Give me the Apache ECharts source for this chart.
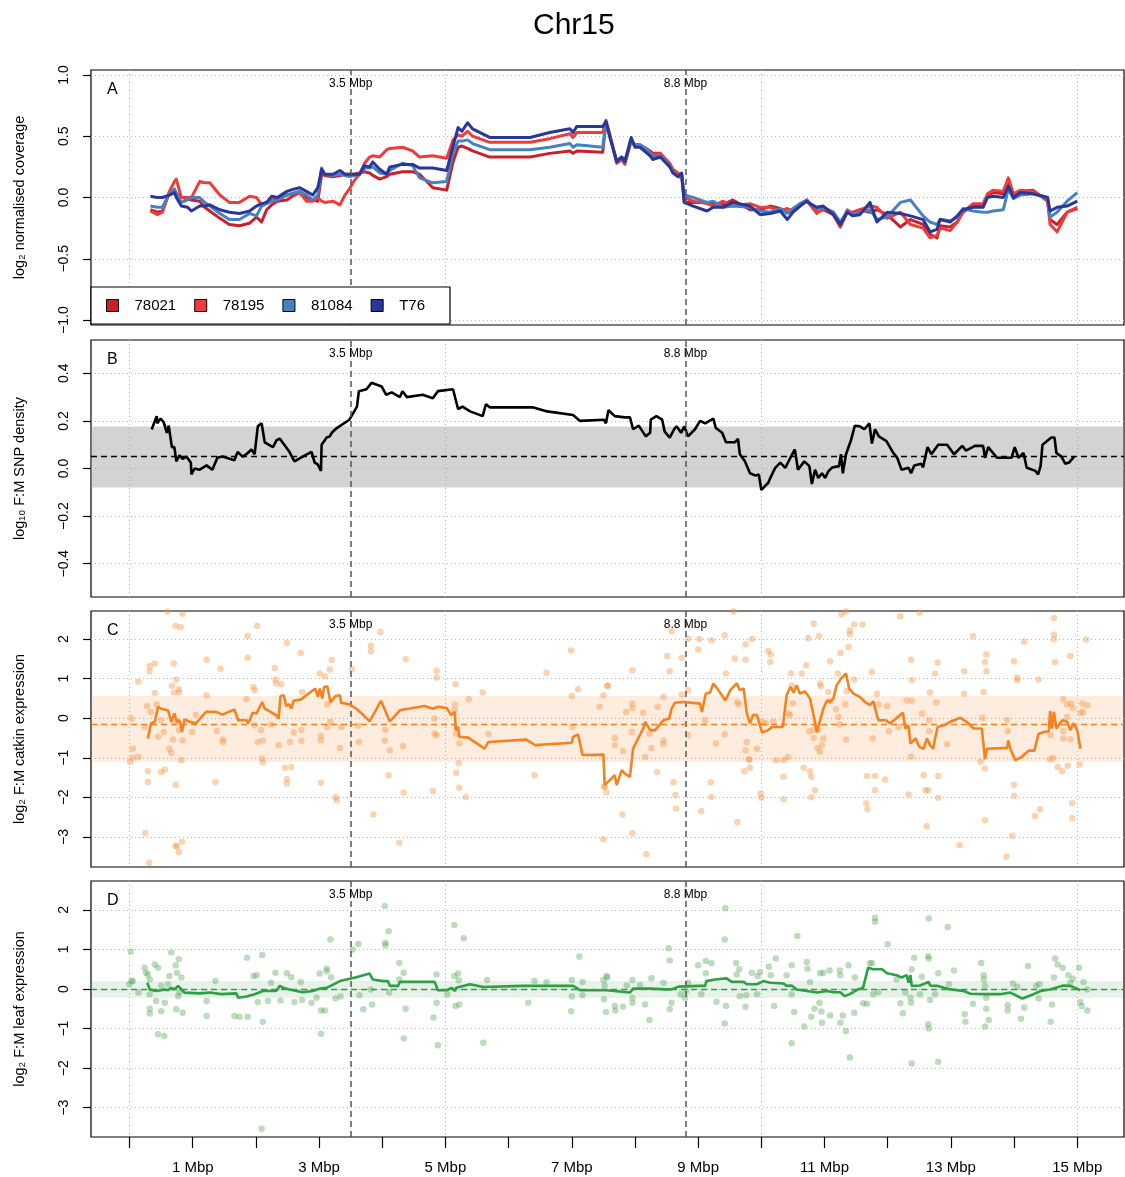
<!DOCTYPE html>
<html><head><meta charset="utf-8">
<script src="https://cdn.jsdelivr.net/npm/echarts@6/dist/echarts.min.js"></script>
<style>html,body{margin:0;padding:0;background:#fff}#c{width:1125px;height:1177px}</style>
</head><body><div id="c"></div>
<script>
// ---------------- DATA ----------------
const xTickValues = [0,1,2,3,4,5,6,7,8,9,10,11,12,13,14,15];
const xLabelValues = [1,3,5,7,9,11,13,15];
const xGridValues = [0,5,10,15];
const markerPositions = [3.5, 8.8];
const ticksA = [-1,-0.5,0,0.5,1];
const ticksB = [-0.4,-0.2,0,0.2,0.4];
const ticksC = [-3,-2,-1,0,1,2];
const ticksD = [-3,-2,-1,0,1,2];

const sampleNames = ['78021','78195','81084','T76'];
const covX = [0.33,0.44,0.52,0.63,0.71,0.74,0.82,0.92,0.98,1.11,1.19,1.27,1.43,1.58,1.74,1.90,2.01,2.09,2.17,2.25,2.34,2.49,2.61,2.69,2.80,2.90,2.98,3.04,3.09,3.22,3.33,3.41,3.48,3.56,3.64,3.72,3.80,3.85,3.96,4.07,4.12,4.32,4.48,4.59,4.80,5.02,5.12,5.20,5.26,5.35,5.43,5.70,6.34,6.65,6.97,7.02,7.08,7.49,7.54,7.60,7.71,7.79,7.84,7.94,8.00,8.08,8.24,8.28,8.40,8.55,8.60,8.68,8.74,8.78,8.92,9.14,9.24,9.39,9.55,9.82,9.98,10.14,10.30,10.41,10.50,10.61,10.72,10.77,10.88,10.98,11.14,11.25,11.36,11.45,11.56,11.72,11.83,11.99,12.20,12.36,12.56,12.67,12.78,12.83,12.99,13.10,13.19,13.35,13.51,13.58,13.67,13.83,13.91,13.99,14.10,14.30,14.53,14.57,14.68,14.84,15.00];
const cov78021 = [-0.10,-0.12,-0.11,0.04,0.05,0.03,0.0,-0.01,-0.02,-0.03,
 -0.08,-0.11,-0.17,-0.22,-0.23,-0.21,-0.16,-0.20,-0.10,-0.06,
 -0.03,-0.02,0.02,0.04,0.0,-0.02,-0.03,0.19,0.18,0.17,
 0.18,0.19,0.19,0.19,0.20,0.21,0.20,0.18,0.15,0.17,
 0.19,0.21,0.21,0.19,0.08,0.06,0.29,0.41,0.42,0.40,
 0.38,0.33,0.33,0.36,0.38,0.36,0.38,0.37,0.61,0.50,
 0.30,0.33,0.30,0.46,0.43,0.43,0.38,0.36,0.36,0.27,
 0.22,0.18,0.16,-0.04,-0.04,-0.04,-0.05,-0.06,-0.02,-0.10,
 -0.10,-0.07,-0.09,-0.12,-0.12,-0.07,-0.02,-0.05,-0.12,-0.10,
 -0.14,-0.24,-0.12,-0.12,-0.10,-0.12,-0.10,-0.14,-0.24,-0.18,
 -0.22,-0.30,-0.33,-0.23,-0.24,-0.20,-0.12,-0.07,-0.06,0.02,
 0.04,0.03,0.12,0.02,0.05,0.06,-0.03,-0.18,-0.22,-0.12,
 -0.09];
const cov78195 = [-0.11,-0.14,-0.12,0.05,0.13,0.15,0.0,0.0,0.0,0.13,
 0.12,0.12,0.02,-0.04,-0.04,0.01,0.0,-0.06,-0.04,-0.02,
 -0.01,0.02,0.03,0.04,-0.03,-0.03,0.0,-0.03,-0.04,-0.03,
 -0.06,0.02,0.07,0.14,0.19,0.28,0.33,0.34,0.33,0.39,
 0.40,0.41,0.38,0.33,0.34,0.32,0.47,0.51,0.50,0.54,
 0.50,0.45,0.45,0.48,0.52,0.49,0.53,0.53,0.63,0.52,
 0.28,0.31,0.27,0.46,0.42,0.42,0.37,0.35,0.36,0.28,
 0.23,0.20,0.18,0.0,-0.03,-0.05,-0.07,-0.03,-0.07,-0.05,
 -0.08,-0.08,-0.11,-0.09,-0.11,-0.05,-0.03,-0.06,-0.13,-0.09,
 -0.12,-0.23,-0.10,-0.13,-0.10,-0.07,-0.08,-0.17,-0.12,-0.22,
 -0.25,-0.33,-0.31,-0.25,-0.27,-0.20,-0.12,-0.05,-0.05,0.03,
 0.06,0.05,0.16,0.03,0.06,0.05,-0.02,-0.22,-0.28,-0.12,
 -0.08];
const cov81084 = [-0.07,-0.08,-0.08,0.03,0.07,0.08,-0.04,-0.02,0.0,0.0,
 -0.04,-0.07,-0.13,-0.18,-0.18,-0.13,-0.15,-0.07,-0.05,-0.03,
 -0.02,0.02,0.04,0.05,0.02,-0.02,0.02,0.24,0.19,0.18,
 0.19,0.18,0.17,0.18,0.19,0.24,0.24,0.25,0.20,0.19,
 0.22,0.28,0.26,0.16,0.12,0.13,0.37,0.46,0.46,0.47,
 0.44,0.39,0.39,0.41,0.44,0.41,0.43,0.41,0.62,0.50,
 0.30,0.32,0.29,0.47,0.43,0.43,0.37,0.33,0.34,0.26,
 0.21,0.17,0.17,0.02,0.0,-0.04,-0.03,-0.08,-0.07,-0.08,
 -0.11,-0.12,-0.09,-0.13,-0.09,-0.05,-0.02,-0.05,-0.09,-0.08,
 -0.12,-0.20,-0.11,-0.14,-0.12,-0.10,-0.18,-0.16,-0.04,-0.02,
 -0.15,-0.20,-0.22,-0.18,-0.19,-0.16,-0.09,-0.11,-0.12,-0.12,
 -0.11,-0.10,0.07,-0.01,0.02,0.03,0.0,-0.16,-0.12,-0.03,
 0.04];
const covT76 = [0.01,0.0,0.0,0.02,0.04,0.0,-0.07,-0.08,-0.11,-0.07,
 -0.07,-0.06,-0.10,-0.12,-0.13,-0.11,-0.07,-0.05,-0.04,0.01,
 0.0,0.05,0.07,0.08,0.05,0.02,0.08,0.23,0.19,0.19,
 0.22,0.19,0.19,0.19,0.19,0.26,0.25,0.29,0.23,0.19,
 0.25,0.27,0.27,0.24,0.24,0.22,0.42,0.57,0.54,0.61,
 0.56,0.49,0.49,0.53,0.56,0.53,0.58,0.58,0.62,0.50,
 0.29,0.33,0.29,0.49,0.41,0.41,0.34,0.31,0.33,0.25,
 0.20,0.17,0.20,-0.04,-0.07,-0.11,-0.08,-0.08,-0.04,-0.07,
 -0.14,-0.13,-0.11,-0.18,-0.12,-0.07,-0.03,-0.05,-0.08,-0.07,
 -0.14,-0.22,-0.12,-0.15,-0.14,-0.04,-0.20,-0.12,-0.13,-0.15,
 -0.18,-0.28,-0.26,-0.18,-0.20,-0.15,-0.10,-0.08,-0.08,0.0,
 0.01,0.0,0.09,0.0,0.04,0.03,0.0,-0.11,-0.08,-0.07,
 -0.03];

const snpDensity = [[0.35,0.164],[0.43,0.22],[0.44,0.19],[0.49,0.21],[0.54,0.195],[0.59,0.15],[0.62,0.18],[0.67,0.09],[0.71,0.09],[0.74,0.03],[0.79,0.055],[0.84,0.04],[0.90,0.05],[0.97,0.025],[0.98,-0.025],[1.03,0.0],[1.11,-0.005],[1.22,0.013],[1.31,-0.005],[1.39,0.045],[1.47,0.05],[1.66,0.035],[1.71,0.07],[1.79,0.05],[1.85,0.06],[1.93,0.08],[1.98,0.06],[2.03,0.177],[2.09,0.19],[2.14,0.11],[2.27,0.09],[2.33,0.12],[2.38,0.125],[2.42,0.11],[2.53,0.07],[2.61,0.03],[2.74,0.05],[2.88,0.07],[2.93,0.025],[2.98,0.017],[3.03,-0.01],[3.04,0.10],[3.12,0.13],[3.17,0.135],[3.20,0.15],[3.28,0.17],[3.48,0.205],[3.60,0.26],[3.63,0.325],[3.75,0.333],[3.83,0.36],[3.99,0.345],[4.06,0.31],[4.15,0.32],[4.28,0.30],[4.32,0.325],[4.39,0.30],[4.64,0.31],[4.80,0.295],[4.88,0.325],[5.12,0.333],[5.20,0.25],[5.27,0.26],[5.39,0.24],[5.59,0.22],[5.64,0.27],[5.70,0.257],[6.38,0.257],[6.61,0.24],[7.02,0.225],[7.13,0.2],[7.51,0.205],[7.54,0.19],[7.58,0.245],[7.68,0.22],[7.84,0.215],[7.92,0.215],[7.97,0.165],[8.06,0.18],[8.17,0.135],[8.24,0.15],[8.25,0.205],[8.34,0.22],[8.43,0.205],[8.47,0.155],[8.55,0.13],[8.62,0.165],[8.66,0.177],[8.73,0.15],[8.78,0.177],[8.84,0.135],[8.95,0.165],[9.03,0.2],[9.11,0.19],[9.24,0.21],[9.28,0.17],[9.38,0.15],[9.44,0.11],[9.58,0.11],[9.63,0.125],[9.66,0.06],[9.74,0.03],[9.82,-0.02],[9.91,-0.03],[9.96,-0.025],[10.00,-0.09],[10.11,-0.06],[10.15,-0.035],[10.22,0.003],[10.30,0.025],[10.38,0.003],[10.45,0.04],[10.53,0.08],[10.58,-0.005],[10.68,0.03],[10.76,0.01],[10.80,-0.065],[10.85,-0.005],[10.90,-0.04],[10.96,-0.02],[11.01,-0.04],[11.06,-0.012],[11.12,0.004],[11.23,0.01],[11.26,0.06],[11.29,-0.02],[11.34,0.06],[11.42,0.12],[11.48,0.18],[11.56,0.177],[11.63,0.165],[11.71,0.19],[11.75,0.105],[11.80,0.165],[11.86,0.135],[11.98,0.115],[12.09,0.065],[12.15,0.045],[12.22,-0.005],[12.33,0.003],[12.37,-0.02],[12.42,0.013],[12.53,0.02],[12.56,0.005],[12.63,0.09],[12.69,0.06],[12.80,0.1],[12.94,0.1],[13.05,0.06],[13.18,0.095],[13.24,0.075],[13.38,0.095],[13.51,0.095],[13.54,0.045],[13.59,0.09],[13.73,0.045],[13.96,0.045],[14.01,0.09],[14.07,0.045],[14.15,0.065],[14.20,0.003],[14.34,-0.01],[14.38,-0.025],[14.42,0.01],[14.45,0.10],[14.59,0.13],[14.64,0.13],[14.67,0.065],[14.75,0.05],[14.81,0.02],[14.87,0.025],[14.95,0.05]];
const snpBand = [-0.08, 0.177];
const snpMean = 0.048;

const catkinSmooth = [[0.29,-0.51],[0.34,-0.13],[0.40,-0.09],[0.45,0.29],[0.50,0.24],[0.61,0.20],[0.66,-0.09],[0.71,0.12],[0.75,-0.09],[0.79,-0.05],[0.83,-0.35],[0.87,-0.03],[0.95,-0.09],[1.05,-0.13],[1.21,0.16],[1.37,0.16],[1.47,0.09],[1.66,0.22],[1.72,-0.05],[1.85,-0.05],[1.88,-0.13],[1.95,0.14],[2.01,0.12],[2.10,0.41],[2.14,0.24],[2.32,0.08],[2.36,-0.01],[2.39,0.56],[2.44,0.58],[2.48,0.31],[2.53,0.35],[2.56,0.24],[2.60,0.45],[2.71,0.47],[2.94,0.75],[2.98,0.54],[3.01,0.75],[3.05,0.50],[3.08,0.79],[3.13,0.81],[3.18,0.40],[3.26,0.56],[3.33,0.58],[3.35,0.39],[3.48,0.35],[3.59,0.24],[3.70,0.08],[3.80,-0.08],[3.98,0.44],[4.12,-0.08],[4.28,0.20],[4.34,0.22],[4.67,0.31],[4.80,0.24],[4.88,0.29],[5.02,0.26],[5.09,0.08],[5.15,0.16],[5.16,-0.30],[5.20,-0.22],[5.22,-0.47],[5.36,-0.49],[5.62,-0.77],[5.68,-0.60],[6.28,-0.54],[6.42,-0.68],[7.00,-0.62],[7.02,-0.47],[7.10,-0.41],[7.17,-0.93],[7.50,-0.92],[7.52,-1.69],[7.55,-1.73],[7.68,-1.44],[7.71,-1.69],[7.79,-1.31],[7.84,-1.40],[7.92,-1.48],[7.97,-0.77],[8.13,-0.26],[8.16,-0.09],[8.24,-0.30],[8.32,-0.30],[8.45,-0.05],[8.54,-0.01],[8.58,0.24],[8.63,0.39],[8.77,0.41],[9.03,0.37],[9.06,0.16],[9.12,0.62],[9.19,0.65],[9.24,0.88],[9.32,0.71],[9.43,0.45],[9.51,0.71],[9.61,0.88],[9.66,0.71],[9.72,0.75],[9.77,0.12],[9.82,-0.13],[9.87,0.08],[9.93,0.08],[10.01,-0.36],[10.11,-0.30],[10.17,-0.22],[10.34,-0.22],[10.40,0.58],[10.46,0.79],[10.51,0.65],[10.56,0.83],[10.61,0.62],[10.69,0.68],[10.77,0.50],[10.82,0.12],[10.88,-0.35],[10.93,-0.05],[10.98,0.24],[11.04,0.45],[11.09,0.41],[11.14,0.50],[11.19,0.83],[11.27,1.02],[11.34,1.13],[11.39,0.75],[11.46,0.62],[11.56,0.54],[11.64,0.41],[11.72,0.33],[11.77,0.43],[11.85,-0.05],[11.97,-0.05],[12.04,-0.13],[12.16,0.03],[12.24,0.14],[12.28,-0.26],[12.33,-0.18],[12.36,-0.64],[12.44,-0.51],[12.50,-0.72],[12.57,-0.77],[12.62,-0.51],[12.67,-0.68],[12.72,-0.77],[12.75,-0.51],[12.79,-0.22],[12.89,-0.18],[12.99,-0.09],[13.15,0.01],[13.25,-0.09],[13.36,-0.26],[13.49,-0.26],[13.54,-1.04],[13.57,-0.77],[13.89,-0.75],[13.91,-0.56],[13.94,-0.77],[14.02,-1.06],[14.12,-0.98],[14.23,-0.82],[14.32,-0.82],[14.39,-0.39],[14.47,-0.35],[14.55,-0.33],[14.57,0.18],[14.60,-0.26],[14.63,0.16],[14.67,-0.26],[14.76,-0.05],[14.84,-0.09],[14.89,-0.30],[14.94,-0.13],[15.00,-0.30],[15.05,-0.77]];
const catkinPoints = [[0.60,2.70],[0.84,2.64],[0.73,2.33],[0.81,2.30],[2.02,2.33],[1.87,2.08],[1.87,1.53],[2.49,1.90],[2.71,1.65],[3.20,1.47],[3.97,2.18],[3.82,1.83],[3.82,1.69],[4.37,1.49],[3.52,1.24],[4.86,1.20],[4.86,1.03],[5.16,0.86],[5.37,0.48],[5.59,0.65],[6.60,1.15],[6.99,1.71],[7.10,0.73],[7.00,0.56],[7.57,0.82],[1.22,1.48],[1.44,1.25],[2.30,1.27],[2.31,0.98],[2.32,0.88],[2.40,0.86],[3.01,1.13],[3.09,1.06],[3.17,1.23],[0.40,1.38],[0.32,1.32],[0.32,1.19],[0.70,1.38],[0.74,0.98],[0.67,0.82],[0.78,0.73],[0.78,0.65],[0.70,0.65],[0.40,0.64],[0.14,0.92],[0.28,0.31],[0.34,0.16],[0.43,0.35],[0.50,-0.05],[0.03,-0.01],[0.24,-0.22],[0.45,-0.47],[0.54,-0.35],[0.63,-0.77],[0.66,-0.87],[0.69,-0.54],[0.73,-0.09],[0.78,-0.30],[0.84,-0.56],[0.82,-1.06],[0.99,-0.35],[1.05,0.08],[1.22,0.58],[1.38,-0.32],[1.48,-0.54],[1.48,-0.60],[0.05,-1.00],[0.14,-0.98],[0.01,-1.10],[0.05,-0.77],[0.29,-1.34],[0.29,-1.61],[0.50,-1.36],[0.56,-1.30],[0.73,-1.68],[1.36,-1.61],[1.98,0.71],[1.96,0.79],[1.85,0.48],[1.98,-0.18],[2.08,-0.30],[2.11,-0.56],[2.10,-1.02],[2.11,-1.12],[2.03,-0.60],[2.24,-0.16],[2.36,-0.68],[2.46,-1.25],[2.56,-1.23],[2.49,-1.54],[2.49,-1.65],[2.54,-0.60],[2.60,-0.36],[2.72,-0.30],[2.72,-0.57],[2.73,0.66],[3.03,-0.45],[3.03,-0.56],[3.03,-1.63],[3.18,-0.09],[3.13,-0.22],[3.13,0.35],[3.33,-0.75],[3.35,-0.22],[3.26,-2.00],[3.28,-2.07],[3.62,-0.19],[3.63,-0.60],[3.86,-2.43],[4.05,-0.30],[4.04,-0.56],[4.12,-0.81],[4.10,-1.44],[4.33,-0.70],[4.34,-1.88],[4.80,-1.84],[4.83,-0.39],[4.86,-0.43],[4.83,-0.01],[5.15,0.35],[5.14,0.20],[5.17,-0.39],[5.22,-0.64],[5.21,-1.14],[5.17,-1.38],[5.22,-1.76],[5.32,-1.99],[5.68,-0.40],[6.41,-1.44],[7.01,-0.22],[7.52,-1.73],[7.55,-1.88],[7.50,-3.06],[4.27,-3.15],[0.25,-2.90],[0.73,-3.22],[0.75,-3.24],[0.78,-3.39],[0.83,-3.12],[0.31,-3.65],
[9.56,2.70],[11.27,2.62],[11.34,2.70],[12.50,2.67],[12.20,2.58],[14.63,2.53],[10.83,2.39],[11.47,2.37],[11.60,2.37],[11.40,2.22],[11.40,2.12],[10.91,2.08],[10.74,2.03],[8.84,2.01],[9.02,2.00],[9.21,1.97],[9.42,2.10],[9.75,1.87],[9.85,2.00],[8.58,2.20],[9.00,1.74],[8.51,1.57],[8.74,1.52],[7.96,1.21],[8.55,1.19],[9.44,1.13],[9.58,1.51],[9.75,1.48],[10.11,1.70],[10.15,1.61],[10.14,1.42],[10.71,1.34],[11.09,1.44],[11.25,1.65],[11.38,1.80],[11.75,1.17],[10.64,1.13],[10.47,1.13],[10.48,0.82],[10.93,0.88],[10.94,0.81],[11.21,1.13],[11.47,0.98],[12.37,1.48],[12.79,1.40],[13.35,2.07],[13.56,1.61],[13.54,1.42],[13.56,1.19],[14.00,1.44],[14.16,1.93],[14.05,1.02],[14.05,0.96],[14.39,0.98],[14.63,2.11],[14.63,1.99],[14.65,1.42],[14.89,1.57],[15.14,1.99],[13.21,1.19],[13.52,0.66],[13.21,0.62],[12.75,1.13],[12.67,0.65],[12.38,0.96],[12.30,0.45],[12.38,0.44],[12.77,0.40],[12.54,0.12],[12.66,-0.05],[12.66,-0.33],[12.94,-0.66],[12.37,-0.97],[11.85,0.35],[11.99,0.31],[12.02,-0.33],[12.17,-0.22],[11.76,-0.51],[11.83,0.62],[11.33,0.35],[11.34,-0.54],[11.18,0.23],[11.22,0.03],[11.35,0.68],[11.24,-0.16],[10.89,-0.30],[10.96,-0.68],[10.93,-0.85],[10.89,-0.75],[10.83,-0.30],[11.06,0.66],[11.09,0.43],[10.98,-0.51],[10.83,-0.50],[10.76,-0.33],[10.50,0.37],[10.43,0.12],[10.45,0.08],[10.42,-0.98],[10.35,-1.06],[10.35,-1.48],[10.23,-1.06],[10.19,-0.09],[10.07,-0.13],[10.01,-0.09],[9.93,-0.77],[9.80,-1.04],[9.82,-1.25],[9.73,-1.34],[9.77,-0.60],[9.75,-0.81],[9.99,-1.90],[10.00,-2.01],[10.35,-2.05],[10.67,-1.25],[10.77,-1.34],[10.79,-1.48],[10.85,-1.82],[10.79,-2.00],[11.67,-1.46],[11.80,-1.46],[11.96,-1.55],[11.66,-2.15],[11.68,-2.30],[11.80,-1.82],[12.33,-1.93],[12.60,-1.82],[12.64,-1.82],[12.57,-1.44],[12.80,-1.46],[12.80,-2.01],[12.62,-2.73],[13.14,-3.21],[13.54,-2.58],[13.47,-1.10],[13.54,-1.27],[14.00,-1.68],[14.00,-1.96],[13.97,-2.97],[13.88,-3.50],[14.33,-2.47],[14.41,-2.30],[14.92,-2.15],[14.92,-2.53],[15.04,-1.17],[14.69,-1.23],[14.76,-1.34],[14.85,-1.20],[14.62,-1.00],[14.57,-1.04],[14.78,-0.33],[14.78,-0.51],[14.58,-0.43],[14.89,-0.53],[14.78,0.48],[14.84,0.35],[14.90,0.37],[14.93,0.26],[15.05,0.14],[15.08,0.37],[15.16,0.33],[15.09,0.16],[14.84,0.03],[14.61,0.09],[13.89,-0.05],[13.90,-0.33],[13.50,0.01],[7.50,0.58],[7.56,0.82],[7.44,0.29],[7.68,-0.50],[7.68,-0.68],[7.81,-0.83],[7.51,-1.73],[7.80,-2.43],[7.96,-2.91],[8.18,-3.44],[7.96,0.37],[7.96,0.26],[7.95,-0.35],[7.86,0.16],[8.13,0.14],[8.45,0.54],[8.36,0.29],[8.45,-0.56],[8.45,-0.66],[8.26,-0.75],[8.35,-1.36],[8.16,-0.98],[8.23,-0.39],[8.61,-1.62],[8.64,-1.94],[8.65,-2.28],[8.84,-0.43],[8.74,0.60],[8.84,0.71],[9.11,-0.05],[9.20,-1.62],[9.21,-1.99],[9.05,-2.35],[9.28,-0.64],[9.42,-0.41],[9.62,0.41],[9.64,0.35],[9.81,-1.04],[9.62,-2.62]];
const catkinBand = [-1.10, 0.56];
const catkinMean = -0.15;

const leafSmooth = [[0.28,0.16],[0.32,-0.01],[0.42,-0.05],[0.50,-0.03],[0.56,-0.01],[0.61,-0.03],[0.66,0.03],[0.71,-0.01],[0.77,0.08],[0.82,-0.01],[0.87,-0.09],[1.11,-0.11],[1.27,-0.09],[1.45,-0.13],[1.69,-0.11],[1.72,-0.22],[1.85,-0.19],[1.98,-0.13],[2.11,-0.05],[2.32,-0.05],[2.38,0.08],[2.43,0.03],[2.53,-0.01],[2.74,-0.08],[2.90,-0.05],[3.01,0.01],[3.12,0.03],[3.33,0.20],[3.59,0.30],[3.80,0.39],[3.85,0.24],[4.01,0.20],[4.09,0.20],[4.12,0.08],[4.25,0.08],[4.28,0.18],[4.83,0.18],[4.88,-0.03],[5.02,-0.03],[5.10,0.03],[5.15,-0.05],[5.17,0.03],[5.39,0.12],[5.60,0.05],[6.23,0.08],[7.02,0.08],[7.13,-0.03],[7.55,-0.03],[7.92,-0.09],[7.97,0.01],[8.24,0.01],[8.50,-0.01],[8.58,-0.01],[8.69,0.06],[9.03,0.08],[9.11,0.08],[9.13,0.20],[9.27,0.24],[9.45,0.27],[9.53,0.18],[9.72,0.18],[9.77,0.12],[9.93,0.12],[10.03,0.20],[10.14,0.16],[10.35,0.14],[10.40,0.08],[10.48,0.09],[10.56,-0.01],[10.72,-0.05],[10.88,-0.09],[11.04,-0.05],[11.14,-0.08],[11.25,-0.08],[11.32,-0.18],[11.40,-0.13],[11.53,-0.01],[11.61,0.03],[11.69,0.54],[11.77,0.50],[11.91,0.50],[11.99,0.40],[12.14,0.35],[12.22,0.29],[12.30,0.35],[12.33,0.16],[12.36,0.35],[12.38,0.08],[12.51,0.09],[12.65,0.18],[12.67,0.09],[12.78,0.08],[12.99,-0.01],[13.20,-0.05],[13.31,-0.12],[13.52,-0.13],[13.78,-0.13],[13.94,-0.09],[14.13,-0.24],[14.31,-0.13],[14.42,-0.05],[14.57,-0.01],[14.78,0.09],[14.89,0.08],[15.05,-0.03]];
const leafPoints = [[0.02,0.94],[0.03,0.20],[0.05,0.20],[0.00,0.12],[0.14,-0.09],[0.24,0.54],[0.26,0.41],[0.29,0.37],[0.32,0.24],[0.40,0.62],[0.45,0.54],[0.32,-0.13],[0.42,-0.30],[0.32,-0.50],[0.32,-0.62],[0.50,-0.56],[0.56,-0.35],[0.45,-1.14],[0.55,-1.19],[0.66,0.92],[0.63,0.33],[0.61,0.12],[0.73,0.60],[0.75,0.41],[0.78,0.75],[0.82,0.29],[0.79,-0.09],[0.74,-0.51],[0.84,-0.60],[0.77,-0.18],[0.50,0.08],[1.22,-0.30],[1.22,-0.68],[1.36,0.20],[1.66,-0.68],[1.74,-0.70],[1.87,-0.70],[1.86,0.79],[2.10,0.86],[1.96,0.33],[2.01,0.35],[2.03,-0.33],[2.11,-0.83],[2.09,-3.53],[2.19,-0.30],[2.31,0.41],[2.24,0.16],[2.39,-0.29],[2.49,0.40],[2.56,0.30],[2.61,-0.33],[2.71,0.18],[2.73,-0.28],[2.88,-0.35],[2.96,-0.22],[3.01,0.39],[3.12,0.51],[3.12,0.45],[3.19,0.30],[3.03,-0.54],[3.09,-0.54],[3.03,-1.13],[3.18,1.25],[3.26,-0.24],[3.34,-0.19],[3.53,1.00],[3.62,1.14],[3.64,-0.16],[3.70,-0.51],[3.82,-0.01],[3.84,-0.39],[4.04,2.10],[4.10,1.46],[4.05,1.17],[4.05,1.10],[4.11,-0.09],[4.27,0.66],[4.34,0.41],[4.27,0.24],[4.37,-0.50],[4.34,-1.25],[4.81,-0.72],[4.86,0.37],[4.86,-0.35],[4.88,-1.42],[5.14,1.62],[5.29,1.28],[5.14,0.33],[5.20,0.39],[5.21,0.22],[5.16,-0.43],[5.22,-0.39],[5.03,-0.13],[5.60,-1.36],[5.66,0.23],[6.31,-0.35],[6.41,0.20],[6.60,0.18],[7.00,0.23],[7.12,0.82],[7.00,-0.19],[6.99,-0.56],[7.17,0.18],[7.17,-0.16],[7.50,0.23],[7.55,0.33],[7.52,0.09],[7.54,-0.58],
[7.56,0.29],[7.51,-0.26],[7.68,-0.43],[7.69,-0.54],[7.81,-0.45],[7.87,0.09],[7.96,0.23],[7.96,-0.22],[7.96,-0.35],[8.08,0.10],[8.16,-0.39],[8.23,-0.78],[8.26,0.27],[8.45,0.16],[8.53,1.03],[8.55,0.72],[8.58,-0.35],[8.55,-0.51],[8.72,-0.13],[8.79,-0.22],[8.81,-0.05],[8.84,0.16],[9.00,0.60],[9.12,0.71],[9.12,0.40],[9.21,0.65],[9.05,-0.13],[9.29,-0.32],[9.43,2.04],[9.42,1.25],[9.44,-0.43],[9.42,-0.87],[9.60,0.66],[9.65,0.50],[9.61,0.37],[9.66,-0.18],[9.75,-0.45],[9.76,-0.16],[9.85,0.41],[9.93,-0.13],[9.94,0.33],[9.98,0.43],[10.12,0.56],[10.23,0.77],[10.15,0.35],[10.20,-0.43],[10.40,0.35],[10.48,0.60],[10.48,-0.13],[10.52,-0.58],[10.57,1.34],[10.68,-0.95],[10.48,-1.37],[10.72,0.68],[10.73,0.51],[10.77,0.18],[10.79,-0.70],[10.84,-0.50],[10.92,-0.35],[10.96,-0.85],[10.95,-0.57],[11.09,-0.67],[11.08,0.47],[10.98,0.41],[10.93,0.40],[11.24,0.47],[11.25,0.35],[11.29,-0.67],[11.25,-0.85],[11.34,-1.06],[11.38,0.60],[11.40,-1.73],[11.47,-0.60],[11.48,0.29],[11.61,-0.36],[11.67,-0.37],[11.72,0.65],[11.75,0.66],[11.80,1.80],[11.80,1.70],[11.77,-0.13],[11.85,-0.08],[12.00,1.13],[12.14,0.24],[12.20,-0.36],[12.24,-0.61],[12.28,-0.09],[12.36,-0.22],[12.37,-0.35],[12.38,0.50],[12.42,0.79],[12.51,-0.13],[12.54,0.31],[12.65,1.78],[12.64,0.83],[12.65,0.77],[12.64,-0.89],[12.65,-1.00],[12.67,-0.28],[12.75,-0.13],[12.80,0.40],[12.95,1.57],[12.97,0.12],[13.05,0.47],[12.38,-1.88],[12.80,-1.84],[13.22,-0.64],[13.23,-0.83],[13.35,-0.37],[13.48,0.66],[13.52,0.35],[13.52,0.24],[13.54,0.08],[13.56,-0.22],[13.56,-0.50],[13.60,-0.78],[13.54,-0.95],[13.90,-0.41],[13.90,-0.54],[13.98,0.14],[14.05,0.06],[14.11,-0.75],[14.16,-0.47],[14.22,0.58],[14.35,0.08],[14.40,0.12],[14.39,-0.24],[14.60,-0.39],[14.58,-0.83],[14.65,0.77],[14.69,0.62],[14.77,0.54],[14.86,0.35],[14.89,0.16],[14.93,0.26],[15.03,0.54],[15.05,-0.33],[15.07,-0.43],[15.16,-0.54],[15.10,0.18],[15.16,-0.01],[14.63,0.29]];
const leafBand = [-0.22, 0.20];
const leafMean = -0.01;

// ---------------- STYLE ----------------
const FONT = "'Liberation Sans', Arial, Helvetica, sans-serif";
const covColors = ['#C9202A','#EE3B3B','#4682C0','#29369A'];
const xMin = -0.61, xMax = 15.74;
const dotted = {type:[1,3], color:'#b8b8b8', width:1};

const panels = [
  {top:70, height:255, min:-1.04, max:1.04, ticks:ticksA, dec:1, name:'log\u2082 normalised coverage', letter:'A'},
  {top:340, height:257, min:-0.54, max:0.54, ticks:ticksB, dec:1, name:'log\u2081\u2080 F:M SNP density', letter:'B'},
  {top:611, height:256, min:-3.76, max:2.71, ticks:ticksC, dec:0, name:'log\u2082 F:M catkin expression', letter:'C'},
  {top:881, height:256, min:-3.74, max:2.73, ticks:ticksD, dec:0, name:'log\u2082 F:M leaf expression', letter:'D'}
];

function fmt(dec){
  return function(v){
    const s = Math.abs(v).toFixed(dec);
    return (v < -1e-9 ? '\u2212' : '') + s;
  };
}

const grid = panels.map(p => ({left:91, right:1, top:p.top, height:p.height, show:true,
  borderColor:'#000', borderWidth:1.2, backgroundColor:'transparent', containLabel:false}));

const xAxis = panels.map((p,i) => ({
  type:'value', gridIndex:i, min:xMin, max:xMax, position:'bottom',
  axisLine:{show:false, onZero:false},
  axisTick: i===3 ? {show:true, customValues:xTickValues, length:11, inside:false, lineStyle:{color:'#000', width:1.2}}
                  : {show:false, customValues:xGridValues},
  axisLabel: i===3 ? {show:true, customValues:xLabelValues, formatter:v=>v+' Mbp', margin:23, fontSize:15, color:'#000', fontFamily:FONT}
                   : {show:false},
  splitLine: i===3 ? {show:false} : {show:true, lineStyle:dotted}
}));
// extra axis in panel D only for dotted vertical grid lines
xAxis.push({type:'value', gridIndex:3, min:xMin, max:xMax, position:'bottom',
  axisLine:{show:false, onZero:false}, axisTick:{show:false, customValues:xGridValues}, axisLabel:{show:false},
  splitLine:{show:true, lineStyle:dotted}});

const yAxis = panels.map((p,i) => ({
  type:'value', gridIndex:i, min:p.min, max:p.max, position:'left',
  axisLine:{show:false, onZero:false},
  axisTick:{show:true, customValues:p.ticks, length:8, lineStyle:{color:'#000', width:1.2}},
  axisLabel:{customValues:p.ticks, rotate:90, margin:20, fontSize:14, color:'#000', fontFamily:FONT, formatter:fmt(p.dec)},
  splitLine:{show:true, lineStyle:dotted},
  name:p.name, nameLocation:'middle', nameRotate:90, nameGap:64,
  nameTextStyle:{fontSize:14.5, color:'#000', fontFamily:FONT}
}));

function vMarkers(){
  return markerPositions.map(v => ({xAxis:v,
    lineStyle:{color:'#555', type:[6,4], width:1.5},
    label:{show:true, position:'end', distance:-20, formatter: v.toFixed(1)+' Mbp', fontSize:12, color:'#000', fontFamily:FONT}}));
}
function markLineFor(extra){
  return {silent:true, symbol:['none','none'], z:3, data: vMarkers().concat(extra||[])};
}

const covArrays = [cov78021, cov78195, cov81084, covT76];
const series = [];
covArrays.forEach((arr, k) => {
  const s = {name:sampleNames[k], type:'line', xAxisIndex:0, yAxisIndex:0, showSymbol:false, symbol:'none',
    data: covX.map((x,j) => [x, arr[j]]), color:covColors[k],
    lineStyle:{width:3, color:covColors[k], join:'round'}, z:2+k*0.1, silent:true};
  if (k === 0) s.markLine = markLineFor();
  series.push(s);
});

series.push({type:'line', xAxisIndex:1, yAxisIndex:1, showSymbol:false, symbol:'none', data:snpDensity,
  lineStyle:{width:2.6, color:'#000'}, color:'#000', silent:true, z:2,
  markArea:{silent:true, z:1, itemStyle:{color:'rgba(150,150,150,0.42)'}, data:[[{yAxis:snpBand[0]},{yAxis:snpBand[1]}]]},
  markLine: markLineFor([{yAxis:snpMean, lineStyle:{color:'#000', type:[6,4], width:1.4}, label:{show:false}}])
});

series.push({type:'scatter', xAxisIndex:2, yAxisIndex:2, data:catkinPoints, symbolSize:6.5,
  itemStyle:{color:'rgba(246,146,60,0.5)'}, silent:true, z:2,
  markArea:{silent:true, z:1, itemStyle:{color:'rgba(245,130,32,0.15)'}, data:[[{yAxis:catkinBand[0]},{yAxis:catkinBand[1]}]]},
  markLine: markLineFor([{yAxis:catkinMean, lineStyle:{color:'#F2801F', type:[6,4], width:1.4}, label:{show:false}}])
});
series.push({type:'line', xAxisIndex:2, yAxisIndex:2, showSymbol:false, symbol:'none', data:catkinSmooth,
  lineStyle:{width:2.6, color:'#F58220'}, color:'#F58220', silent:true, z:4});

series.push({type:'scatter', xAxisIndex:3, yAxisIndex:3, data:leafPoints, symbolSize:6.5,
  itemStyle:{color:'rgba(80,165,80,0.48)'}, silent:true, z:2,
  markArea:{silent:true, z:1, itemStyle:{color:'rgba(60,160,70,0.12)'}, data:[[{yAxis:leafBand[0]},{yAxis:leafBand[1]}]]},
  markLine: markLineFor([{yAxis:leafMean, lineStyle:{color:'#2CA043', type:[6,4], width:1.4}, label:{show:false}}])
});
series.push({type:'line', xAxisIndex:3, yAxisIndex:3, showSymbol:false, symbol:'none', data:leafSmooth,
  lineStyle:{width:2.6, color:'#2CA043'}, color:'#2CA043', silent:true, z:4});

const titles = [{text:'Chr15', left:528, top:6, textStyle:{fontSize:30, fontWeight:'normal', color:'#000', fontFamily:FONT}}]
  .concat(panels.map(p => ({text:p.letter, left:102, top:p.top+7, textStyle:{fontSize:16, fontWeight:'normal', color:'#000', fontFamily:FONT}})));

const option = {
  animation:false,
  backgroundColor:'#fff',
  textStyle:{fontFamily:FONT},
  title: titles,
  grid: grid,
  xAxis: xAxis,
  yAxis: yAxis,
  legend: {data:sampleNames, left:91, top:287, orient:'horizontal', icon:'rect', itemWidth:12, itemHeight:12,
    itemGap:18, padding:[11,25,11,15], backgroundColor:'#fff', borderColor:'#000', borderWidth:1.2, borderRadius:0,
    itemStyle:{borderColor:'#000', borderWidth:1}, selectedMode:false, z:10,
    textStyle:{fontSize:15, color:'#000', fontFamily:FONT, padding:[0,0,0,11]}},
  series: series
};

const chart = echarts.init(document.getElementById('c'), null, {renderer:'canvas'});
chart.setOption(option);
</script>
</body></html>
